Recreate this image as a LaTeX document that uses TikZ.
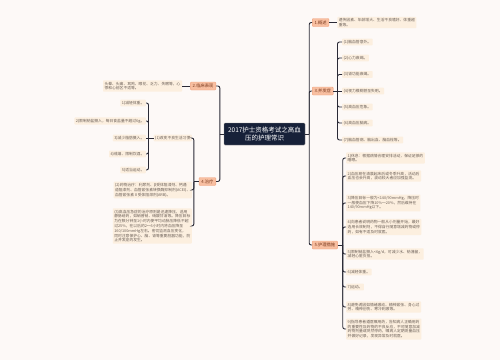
\documentclass[tikz,border=0pt]{standalone}
\usepackage{fontspec}
\setmainfont{Noto Sans CJK SC}
\usetikzlibrary{positioning}
\definecolor{bgpaper}{HTML}{FDF9F7}
\definecolor{rootnavy}{HTML}{172139}
\definecolor{topicfill}{HTML}{F8BFA1}
\definecolor{topicdraw}{HTML}{F0A27E}
\definecolor{topictext}{HTML}{7A3A1E}
\definecolor{leaffill}{HTML}{FCEFDF}
\definecolor{leaftext}{HTML}{6B5F57}
\definecolor{linkgray}{HTML}{2A2A36}

\begin{document}
\begin{tikzpicture}[
    x=1pt, y=-1pt,
    root/.style={rectangle, fill=rootnavy, draw=black!45, line width=0.4pt, rounded corners=1pt, text=white, align=center, font=\fontsize{6.5}{8.2}\selectfont, minimum width=81pt, minimum height=22pt, inner sep=2pt},
    topic/.style={rectangle, fill=topicfill, draw=topicdraw, line width=0.4pt, rounded corners=1pt, text=topictext, font=\fontsize{4.3}{5}\selectfont, inner xsep=2.3pt, inner ysep=1.6pt, minimum height=8pt},
    leaf/.style={rectangle, fill=leaffill, rounded corners=0.8pt, text=leaftext, align=left, font=\fontsize{3.8}{4.8}\selectfont, inner xsep=1.5pt, inner ysep=1.5pt},
    link/.style={draw=linkgray, line width=0.9pt, rounded corners=2pt},
]

% Paper
\fill[bgpaper] (0,0) rectangle (500,360);
\useasboundingbox (0,0) rectangle (500,360);

% Central topic
\node[root] (root) at (264.5,134) {2017护士资格考试之高血\\压的护理常识};

% Main branches
\node[topic, anchor=west] (gaishu) at (312,22.5) {1.概述};
\node[topic, anchor=west] (bingfa) at (312,91) {3.并发症};
\node[topic, anchor=west] (huli) at (312,245) {5.护理措施};
\node[topic, anchor=east] (linchuang) at (216,86) {2.临床表现};
\node[topic, anchor=east] (zhiliao) at (216,181.5) {4.治疗};

% 1. overview
\node[leaf, right=8pt of gaishu] (gaishu-t) {遗传因素、年龄增大、生活不良嗜好、体重超\\重等。};

% 2. symptoms
\node[leaf, left=8pt of linchuang] (linchuang-t) {头晕、头痛、耳鸣、眼花、乏力、失眠等，心\\悸和心前区不适等。};

% 3. complications
\node[leaf, anchor=west] (bf1) at (342,42) {(1)脑血管意外。};
\node[leaf, anchor=west] (bf2) at (342,58) {(2)心力衰竭。};
\node[leaf, anchor=west] (bf3) at (342,74.5) {(3)肾功能衰竭。};
\node[leaf, anchor=west] (bf4) at (342,91) {(4)视力模糊甚至失明。};
\node[leaf, anchor=west] (bf5) at (342,107) {(5)高血压危象。};
\node[leaf, anchor=west] (bf6) at (342,123) {(6)高血压脑病。};
\node[leaf, anchor=west] (bf7) at (342,140) {(7)脑血管病、脑出血、脑血栓等。};

% 4. treatment
\node[leaf, anchor=east] (zl1) at (192,138) {(1)改变不良生活习惯};
\node[leaf, anchor=east] (zl2) at (192,190) {(2)药物治疗：利尿剂、β受体阻滞剂、钙通\\道阻滞剂、血管紧张素转换酶抑制剂(ACEI)、\\血管紧张素Ⅱ受体阻滞剂(ARB)。};
\node[leaf, anchor=east] (zl3) at (192,226) {(3)高血压急症的治疗原则是迅速降压，选用\\静脉给药，如硝普钠、硝酸甘油等。降压目标\\为在数分钟至1小时内使平均动脉压降低不超\\过25\%，在以后的2～6小时内将血压降至\\160/100mmHg左右。密切监测血压变化，\\同时注意保护心、脑、肾等重要脏器功能，防\\止并发症的发生。};

\node[leaf, anchor=east] (gx1) at (146,103) {1)减轻体重。};
\node[leaf, anchor=east] (gx2) at (146,121) {2)限制钠盐摄入，每日食盐量不超过6g。};
\node[leaf, anchor=east] (gx3) at (146,138) {3)减少脂肪摄入。};
\node[leaf, anchor=east] (gx4) at (146,154) {4)戒烟、限制饮酒。};
\node[leaf, anchor=east] (gx5) at (146,170) {5)适当运动。};

% 5. nursing
\node[leaf, anchor=west] (hl1) at (346,158) {1)休息：根据病情合理安排活动，保证足够的\\睡眠。};
\node[leaf, anchor=west] (hl2) at (346,176) {2)血压易在清晨起床后或冬季升高，活动后\\血压也会升高，波动较大者应加强监测。};
\node[leaf, anchor=west] (hl3) at (346,203) {3)降压目标一般为<140/90mmHg，降压时\\一般使血压下降10\%～20\%，然后维持在\\140/90mmHg以下。};
\node[leaf, anchor=west] (hl4) at (346,227) {4)向患者说明药物一般从小剂量开始，最好\\选用长效制剂，不得自行随意增减药物或停\\药，如有不适及时就医。};
\node[leaf, anchor=west] (hl5) at (346,254) {5)限制钠盐摄入<6g/d，可减少水、钠潴留，\\减轻心脏负担。};
\node[leaf, anchor=west] (hl6) at (346,272) {6)减轻体重。};
\node[leaf, anchor=west] (hl7) at (346,287) {7)运动。};
\node[leaf, anchor=west] (hl8) at (346,307) {8)避免诱因如情绪激动、精神紧张、身心过\\劳、精神创伤、寒冷刺激等。};
\node[leaf, anchor=west] (hl9) at (346,329) {9)指导患者遵医嘱用药，告知病人正确用药\\的重要性及药物的不良反应，不可随意加减\\药物剂量或突然停药，嘱病人定期测量血压\\并做好记录，发现异常及时就医。};

%% === Connectors ===

% root to branches
\draw[link] (root.east) -- ++(4,0) coordinate (rj);
\foreach \t in {gaishu,bingfa,huli} \draw[link] (rj) |- (\t.west);
\draw[link] (root.west) -- ++(-4,0) coordinate (lj);
\foreach \t in {linchuang,zhiliao} \draw[link] (lj) |- (\t.east);

% single leaves
\draw[link] (gaishu) -- (gaishu-t);
\draw[link] (linchuang) -- (linchuang-t);

% complications
\draw[link] (bingfa.east) -- ++(4,0) coordinate (bj);
\foreach \i in {1,2,3,5,6,7} \draw[link] (bj) |- (bf\i.west);
\draw[link] (bj) -- (bf4.west);

% nursing
\draw[link] (huli.east) -- ++(5,0) coordinate (hj);
\foreach \i in {1,...,9} \draw[link] (hj) |- (hl\i.west);

% treatment
\draw[link] (zhiliao.west) -- ++(-5,0) coordinate (zj);
\foreach \i in {1,2,3} \draw[link] (zj) |- (zl\i.east);
\draw[link] (zl1.west) -- ++(-5,0) coordinate (gj);
\foreach \i in {1,2,4,5} \draw[link] (gj) |- (gx\i.east);
\draw[link] (gj) -- (gx3.east);

\end{tikzpicture}
\end{document}
